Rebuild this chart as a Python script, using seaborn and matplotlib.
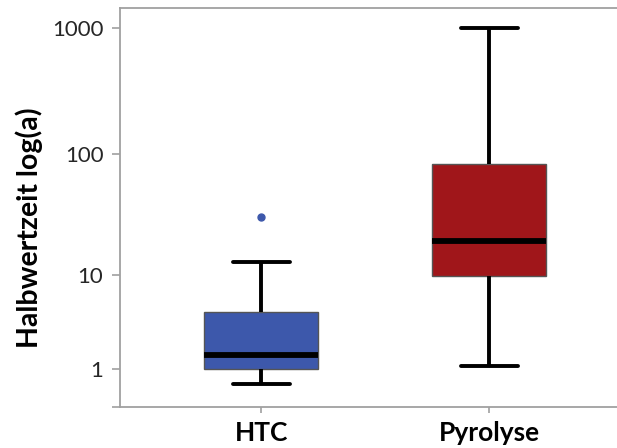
import numpy as np
import pandas as pd
import seaborn as sns
import matplotlib
matplotlib.use("Agg")
import matplotlib.pyplot as plt
from matplotlib.ticker import FixedLocator, FixedFormatter, NullLocator

# ---- data ----
categories = ["HTC", "Pyrolyse"]
htc_values = [0.5, 0.8, 1.0, 1.2, 1.55, 2.5, 4.6, 13.0, 31.0]
pyrolyse_values = [1.1, 4.0, 9.8, 14.0, 19.5, 40.0, 83.0, 300.0, 1000.0]
box_colors = ["#3D58AB", "#A0161A"]
y_tick_values = [0, 1, 10, 100, 1000]
y_tick_labels = ["", "1", "10", "100", "1000"]
y_label = "Halbwertzeit log(a)"

df = pd.DataFrame({
    "Verfahren": [categories[0]] * len(htc_values) + [categories[1]] * len(pyrolyse_values),
    "Halbwertzeit": htc_values + pyrolyse_values,
})

sns.set_style("white")
plt.rcParams["font.family"] = ["Lato", "DejaVu Sans"]

fig = plt.figure(figsize=(6.17, 4.48), dpi=100)
ax = fig.add_axes([0.1945, 0.0922, 0.8055, 0.890])

def fwd(v):
    return np.log10(np.asarray(v, dtype=float) + 1.0)

def inv(v):
    return 10.0 ** np.asarray(v, dtype=float) - 1.0

ax.set_yscale("function", functions=(fwd, inv))

sns.boxplot(
    data=df, x="Verfahren", y="Halbwertzeit", hue="Verfahren",
    palette=box_colors, width=0.5, ax=ax, legend=False, saturation=1,
    whis=1.5,
    boxprops=dict(edgecolor="#555555", linewidth=1.0),
    whiskerprops=dict(color="black", linewidth=2.8),
    capprops=dict(color="black", linewidth=2.8),
    medianprops=dict(color="black", linewidth=4.2),
    flierprops=dict(marker="o", markerfacecolor="#3D58AB",
                    markeredgecolor="#3D58AB", markersize=5),
)

ax.set_xlim(-0.62, 1.56)
ax.set_ylim(0, 1448)
ax.yaxis.set_major_locator(FixedLocator(y_tick_values))
ax.yaxis.set_major_formatter(FixedFormatter(y_tick_labels))
ax.yaxis.set_minor_locator(NullLocator())

spine_col = "#A0A0A0"
for s in ["left", "bottom", "top"]:
    ax.spines[s].set_visible(True)
    ax.spines[s].set_color(spine_col)
    ax.spines[s].set_linewidth(1.3)
ax.spines["right"].set_visible(False)

ax.tick_params(axis="y", which="major", left=True, length=6, width=1.2,
               color=spine_col, pad=6, labelsize=16, labelcolor="#262626")
ax.tick_params(axis="x", which="major", bottom=True, length=4, width=1.2,
               color=spine_col, pad=6, labelsize=19, labelcolor="black")
for lbl in ax.get_xticklabels():
    lbl.set_fontweight("bold")

ax.set_xlabel("")
ax.set_ylabel(y_label, fontsize=20.5, fontweight="bold", color="black")
ax.yaxis.set_label_coords(-0.155, 0.449)

fig.savefig("out.png", dpi=100)
